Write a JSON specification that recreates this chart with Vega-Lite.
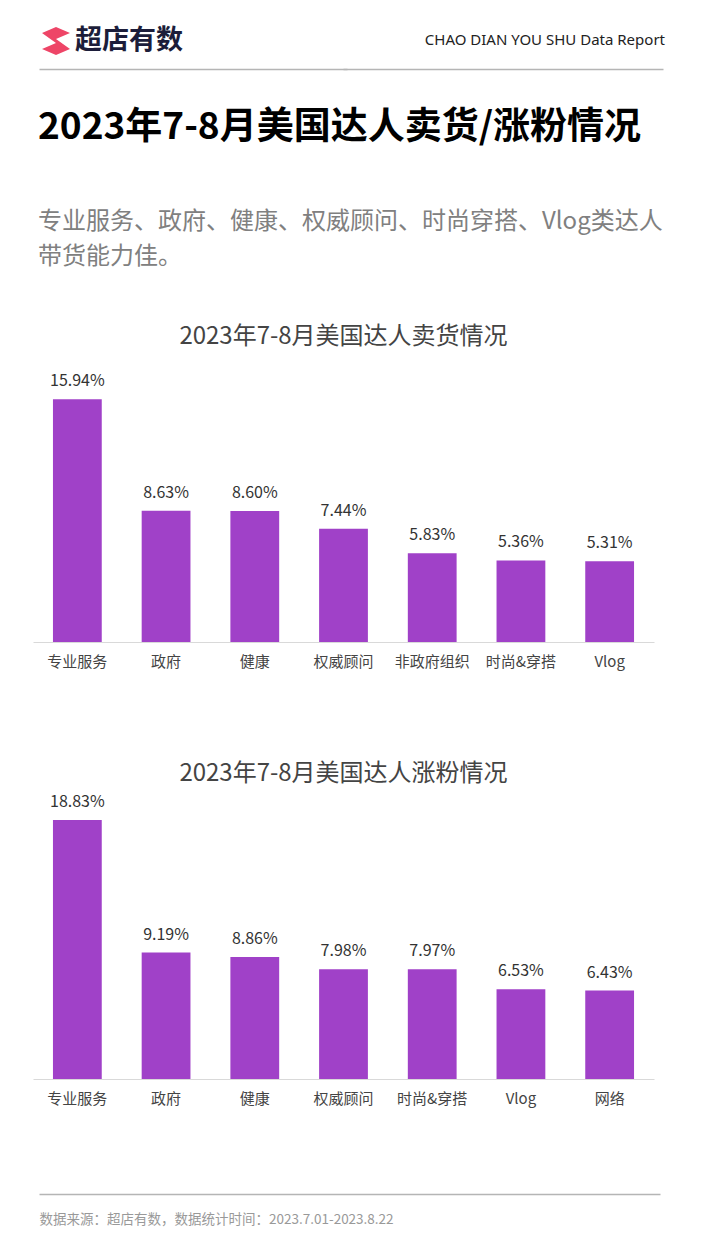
{
  "$schema": "https://vega.github.io/schema/vega-lite/v6.json",
  "background": "white",
  "padding": {"left": 33, "top": 27, "right": 10, "bottom": 10},
  "config": {
    "view": {"stroke": null},
    "font": "Noto Sans CJK SC",
    "title": {"font": "Noto Sans CJK SC"},
    "axis": {"labelFont": "Noto Sans CJK SC", "titleFont": "Noto Sans CJK SC"}
  },
  "spacing": 68,
  "vconcat": [
    {
      "spacing": 35,
      "vconcat": [
        {
          "spacing": 40,
          "vconcat": [
            {
              "spacing": 0,
              "bounds": "flush",
              "hconcat": [
                {
                  "width": 312,
                  "height": 40,
                  "title": {"text": "超店有数", "anchor": "start", "fontSize": 27, "fontWeight": "bold", "color": "#1c1d3a", "dx": 42, "offset": -28},
                  "data": {"values": [{"a": 0}]},
                  "mark": {"type": "point", "filled": true, "opacity": 1, "color": "#ee4567", "size": 4,
                    "shape": "M3,-16 L17,-22 L31,-16 L17,-10 Z M3,0 L17,-6 L31,0 L17,6 Z M3,-16 L17,-10 L31,0 L17,-6 Z"},
                  "encoding": {
                    "x": {"field": "a", "type": "quantitative", "scale": {"domain": [0, 1], "range": [6, 314]},
                      "axis": {"labels": false, "ticks": false, "grid": false, "title": null, "domainColor": "#b5b5b5", "domainWidth": 1.5}}
                  }
                },
                {
                  "width": 312,
                  "height": 40,
                  "title": {"text": "CHAO DIAN YOU SHU Data Report", "anchor": "end", "font": "Noto Sans", "fontSize": 15, "fontWeight": "normal", "color": "#222222", "offset": -22, "dy": -3},
                  "data": {"values": [{"a": 0}]},
                  "mark": {"type": "point", "opacity": 0},
                  "encoding": {
                    "x": {"field": "a", "type": "quantitative", "scale": {"domain": [0, 1], "range": [-2, 318]},
                      "axis": {"labels": false, "ticks": false, "grid": false, "title": null, "domainColor": "#b5b5b5", "domainWidth": 1.5}}
                  }
                }
              ]
            },
            {
              "width": 621,
              "height": 0,
              "title": {
                "text": "2023年7-8月美国达人卖货/涨粉情况",
                "subtitle": ["专业服务、政府、健康、权威顾问、时尚穿搭、Vlog类达人", "带货能力佳。"],
                "anchor": "start",
                "fontSize": 37,
                "fontWeight": "bold",
                "color": "#000000",
                "subtitleFont": "Noto Sans CJK SC",
                "subtitleFontSize": 24,
                "subtitleColor": "#808080",
                "subtitleLineHeight": 35,
                "subtitlePadding": 63,
                "offset": 0,
                "dx": 5
              },
              "data": {"values": [{"a": 0}]},
              "mark": {"type": "point", "opacity": 0}
            }
          ]
        },
        {
          "spacing": 92,
          "vconcat": [
            {
              "width": 621,
              "height": 274,
              "title": {"text": "2023年7-8月美国达人卖货情况", "fontSize": 24, "fontWeight": "normal", "color": "#444444", "anchor": "middle", "offset": 19},
              "data": {"values": [
                {"c": "专业服务", "v": 0.1594},
                {"c": "政府", "v": 0.0863},
                {"c": "健康", "v": 0.0860},
                {"c": "权威顾问", "v": 0.0744},
                {"c": "非政府组织", "v": 0.0583},
                {"c": "时尚&穿搭", "v": 0.0536},
                {"c": "Vlog", "v": 0.0531}
              ]},
              "encoding": {
                "x": {"field": "c", "type": "nominal", "sort": null, "scale": {"paddingInner": 0.45, "paddingOuter": 0.225},
                  "axis": {"title": null, "labelAngle": 0, "labelFontSize": 15, "labelColor": "#444444", "ticks": false, "labelPadding": 12, "domainColor": "#d9d9d9", "grid": false}},
                "y": {"field": "v", "type": "quantitative", "scale": {"domain": [0, 0.18], "nice": false}, "axis": null}
              },
              "layer": [
                {"mark": {"type": "bar", "color": "#a041c8"}},
                {"mark": {"type": "text", "baseline": "bottom", "dy": -10, "fontSize": 16, "color": "#333333"},
                  "encoding": {"text": {"field": "v", "type": "quantitative", "format": ".2%"}}}
              ]
            },
            {
              "width": 621,
              "height": 282,
              "title": {"text": "2023年7-8月美国达人涨粉情况", "fontSize": 24, "fontWeight": "normal", "color": "#444444", "anchor": "middle", "offset": 8},
              "data": {"values": [
                {"c": "专业服务", "v": 0.1883},
                {"c": "政府", "v": 0.0919},
                {"c": "健康", "v": 0.0886},
                {"c": "权威顾问", "v": 0.0798},
                {"c": "时尚&穿搭", "v": 0.0797},
                {"c": "Vlog", "v": 0.0653},
                {"c": "网络", "v": 0.0643}
              ]},
              "encoding": {
                "x": {"field": "c", "type": "nominal", "sort": null, "scale": {"paddingInner": 0.45, "paddingOuter": 0.225},
                  "axis": {"title": null, "labelAngle": 0, "labelFontSize": 15, "labelColor": "#444444", "ticks": false, "labelPadding": 12, "domainColor": "#d9d9d9", "grid": false}},
                "y": {"field": "v", "type": "quantitative", "scale": {"domain": [0, 0.205], "nice": false}, "axis": null}
              },
              "layer": [
                {"mark": {"type": "bar", "color": "#a041c8"}},
                {"mark": {"type": "text", "baseline": "bottom", "dy": -10, "fontSize": 16, "color": "#333333"},
                  "encoding": {"text": {"field": "v", "type": "quantitative", "format": ".2%"}}}
              ]
            }
          ]
        }
      ]
    },
    {
      "width": 624,
      "height": 0,
      "data": {"values": [{"a": 0}]},
      "mark": {"type": "point", "opacity": 0},
      "encoding": {
        "x": {"field": "a", "type": "quantitative", "scale": {"domain": [0, 1], "range": [6, 627]},
          "axis": {"labels": false, "ticks": false, "grid": false, "domainColor": "#b5b5b5", "domainWidth": 1.5,
            "title": "数据来源：超店有数，数据统计时间：2023.7.01-2023.8.22", "titleAnchor": "start", "titleAlign": "left", "titleFontSize": 13.5, "titleFontWeight": "normal", "titleColor": "#999999", "titlePadding": 18}}
      }
    }
  ]
}
